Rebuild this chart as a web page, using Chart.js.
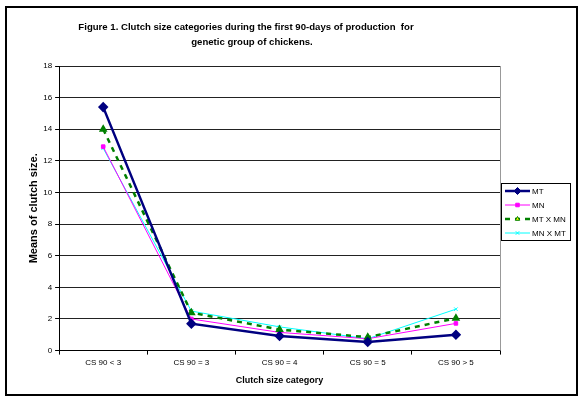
<!DOCTYPE html>
<html>
<head>
<meta charset="utf-8">
<script src="https://cdn.jsdelivr.net/npm/chart.js@4.4.1/dist/chart.umd.min.js"></script>
<style>
  html, body { margin: 0; padding: 0; background: #fff; }
  #wrap { width: 582px; height: 401px; position: relative; }
</style>
</head>
<body>
<div id="wrap"><canvas id="c" width="582" height="401"></canvas></div>
<script>
// Clutch size categories (first 90 days of production)
const categories = ['CS 90 < 3', 'CS 90 = 3', 'CS 90 = 4', 'CS 90 = 5', 'CS 90 > 5'];
const seriesNames = ['MT', 'MN', 'MT X MN', 'MN X MT'];
const mtValues     = [15.4, 1.7, 0.92, 0.55, 1.0];
const mnValues     = [12.9, 2.0, 1.15, 0.75, 1.72];
const mtxmnValues  = [14.0, 2.4, 1.33, 0.85, 2.05];
const mnxmtValues  = [12.8, 2.5, 1.5, 0.75, 2.62];
const yTicks = [0, 2, 4, 6, 8, 10, 12, 14, 16, 18];
const titleLines = [
  'Figure 1. Clutch size categories during the first 90-days of production  for',
  'genetic group of chickens.'
];

const FONT = '"Liberation Sans", Arial, sans-serif';

// Title, frame around the whole figure, right border of the plot area and the legend box
const decorations = {
  id: 'decorations',
  afterDraw(chart) {
    const ctx = chart.ctx;
    const a = chart.chartArea;
    ctx.save();
    // title
    ctx.fillStyle = '#000';
    ctx.font = 'bold 9.6px ' + FONT;
    ctx.textAlign = 'center';
    ctx.textBaseline = 'middle';
    ctx.fillText(titleLines[0], 246, 27);
    ctx.fillText(titleLines[1], 252, 42);
    ctx.textAlign = 'left';

    // plot area right edge
    ctx.strokeStyle = '#999';
    ctx.lineWidth = 1;
    ctx.beginPath();
    ctx.moveTo(a.right + 0.5, a.top);
    ctx.lineTo(a.right + 0.5, a.bottom);
    ctx.stroke();
    // outer frame
    ctx.strokeStyle = '#000';
    ctx.lineWidth = 2;
    ctx.strokeRect(6, 7, 571, 388);

    // legend
    const lx = 501, ly = 183, lw = 69, lh = 57;
    ctx.lineWidth = 1;
    ctx.strokeStyle = '#000';
    ctx.strokeRect(lx + 0.5, ly + 0.5, lw, lh);
    ctx.font = '8px ' + FONT;
    chart.data.datasets.forEach((ds, i) => {
      const y = ly + 8 + i * 14;
      ctx.save();
      ctx.strokeStyle = ds.borderColor;
      ctx.lineWidth = ds.borderWidth;
      ctx.setLineDash(ds.borderDash || []);
      ctx.beginPath();
      ctx.moveTo(lx + 4, y);
      ctx.lineTo(lx + 29, y);
      ctx.stroke();
      ctx.restore();
      ctx.save();
      ctx.fillStyle = ds.pointBackgroundColor;
      ctx.strokeStyle = ds.pointBorderColor;
      ctx.lineWidth = 1;
      Chart.helpers.drawPoint(ctx, {
        pointStyle: ds.pointStyle,
        radius: ds.pointRadius,
        borderWidth: 1
      }, lx + 16.5, y);
      ctx.restore();
      ctx.fillStyle = '#000';
      ctx.fillText(seriesNames[i], lx + 31, y + 0.5);
    });
    ctx.restore();
  }
};

new Chart(document.getElementById('c'), {
  type: 'line',
  data: {
    labels: categories,
    datasets: [
      {
        label: seriesNames[0], data: mtValues,
        borderColor: '#000080', borderWidth: 2.5,
        pointStyle: 'rectRot', pointRadius: 3.5,
        pointBackgroundColor: '#000080', pointBorderColor: '#000080',
        order: 0
      },
      {
        label: seriesNames[1], data: mnValues,
        borderColor: '#FF00FF', borderWidth: 1,
        pointStyle: 'rect', pointRadius: 2.5,
        pointBackgroundColor: '#FF00FF', pointBorderColor: '#FF00FF',
        order: 2
      },
      {
        label: seriesNames[2], data: mtxmnValues,
        borderColor: '#008000', borderWidth: 2.5, borderDash: [5, 5],
        pointStyle: 'triangle', pointRadius: 2.5,
        pointBackgroundColor: '#FFFF00', pointBorderColor: '#008000',
        order: 1
      },
      {
        label: seriesNames[3], data: mnxmtValues,
        borderColor: '#00FFFF', borderWidth: 1,
        pointStyle: 'crossRot', pointRadius: 2.5,
        pointBackgroundColor: '#00FFFF', pointBorderColor: '#00FFFF',
        order: 3
      }
    ]
  },
  options: {
    responsive: false,
    animation: false,
    layout: { padding: { left: 27, right: 82, top: 66, bottom: 11 } },
    plugins: {
      legend: { display: false },
      tooltip: { enabled: false },
      title: { display: false }
    },
    scales: {
      x: {
        offset: true,
        grid: {
          offset: true, drawOnChartArea: false, color: '#000',
          tickLength: 4, tickColor: '#000'
        },
        border: { color: '#000', width: 1 },
        ticks: { color: '#000', font: { family: FONT, size: 8 }, maxRotation: 0, padding: 3 },
        title: {
          display: true, text: 'Clutch size category', color: '#000',
          font: { family: FONT, size: 9, weight: 'bold' }, padding: { top: 5 }
        }
      },
      y: {
        min: 0, max: 18,
        afterBuildTicks(scale) { scale.ticks = yTicks.map(v => ({ value: v })); },
        grid: { color: '#222', lineWidth: 1, tickLength: 4, tickColor: '#000' },
        border: { color: '#000', width: 1 },
        ticks: { color: '#000', font: { family: FONT, size: 8 }, padding: 3 },
        title: {
          display: true, text: 'Means of clutch size.', color: '#000',
          font: { family: FONT, size: 11, weight: 'bold' }, padding: { top: 0, bottom: 0 }
        }
      }
    }
  },
  plugins: [decorations]
});
</script>
</body>
</html>
